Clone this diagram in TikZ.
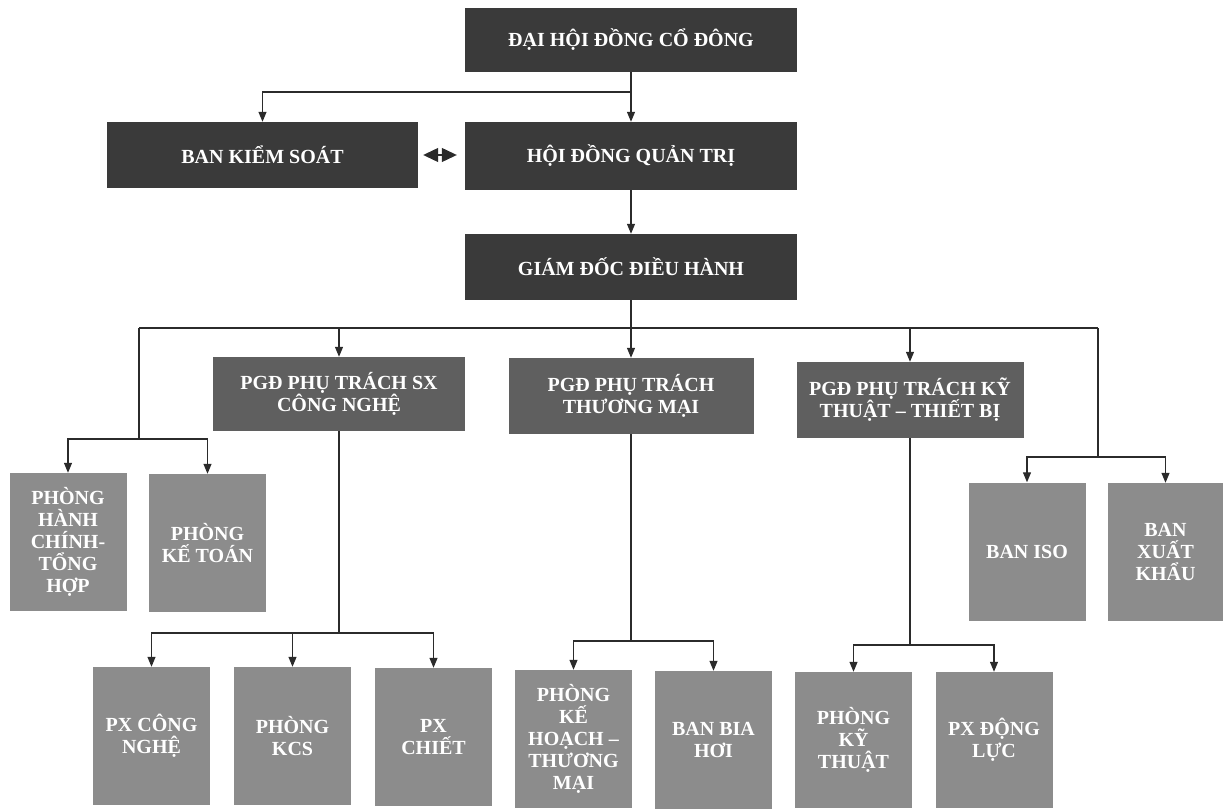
\documentclass[tikz,border=0pt]{standalone}
\usepackage{fontspec}
\setmainfont{Liberation Serif}
\usetikzlibrary{arrows.meta}
\definecolor{boardgray}{HTML}{3A3A3A}
\definecolor{deputygray}{HTML}{5F5F5F}
\definecolor{unitgray}{HTML}{8C8C8C}
\definecolor{linegray}{HTML}{2B2B2B}
\newcommand{\boxFont}[0]{\bfseries\fontsize{20}{22}\selectfont}

\begin{document}
\begin{tikzpicture}[x=1pt, y=-1pt]
  \tikzset{
    chart box/.style={text=white, font=\boxFont, align=center, inner sep=0pt},
    top box/.style={chart box, fill=boardgray, minimum width=332pt, minimum height=66pt},
    deputy box/.style={chart box, fill=deputygray, minimum height=76pt},
    unit box/.style={chart box, fill=unitgray, minimum width=117pt, minimum height=138pt},
    link/.style={draw=linegray, line width=1.2pt},
    arrow/.style={link, -{Triangle[length=10pt, width=8pt]}},
    twoway/.style={link, {Triangle[length=15pt, width=14pt]}-{Triangle[length=15pt, width=14pt]}}
  }
  \useasboundingbox (0,0) rectangle (1223,810);

  % board level
  \node[top box, minimum height=64pt] (dhdcd) at (631,40) {ĐẠI HỘI ĐỒNG CỔ ĐÔNG};
  \node[top box, minimum width=311pt] (bks) at (262.5,155) {BAN KIỂM SOÁT};
  \node[top box, minimum height=68pt] (hdqt) at (631,156) {HỘI ĐỒNG QUẢN TRỊ};
  \node[top box] (gddh) at (631,267) {GIÁM ĐỐC ĐIỀU HÀNH};

  % deputy directors
  \node[deputy box, minimum width=252pt, minimum height=74pt] (pgdsx) at (339,394) {PGĐ PHỤ TRÁCH SX\\CÔNG NGHỆ};
  \node[deputy box, minimum width=245pt] (pgdtm) at (631,396) {PGĐ PHỤ TRÁCH\\THƯƠNG MẠI};
  \node[deputy box, minimum width=227pt] (pgdkt) at (910,400) {PGĐ PHỤ TRÁCH KỸ\\THUẬT – THIẾT BỊ};

  % units
  \node[unit box] (hcth) at (68,542) {PHÒNG\\HÀNH\\CHÍNH-\\TỔNG\\HỢP};
  \node[unit box] (ketoan) at (207.5,543) {PHÒNG\\KẾ TOÁN};
  \node[unit box] (iso) at (1027,551.5) {BAN ISO};
  \node[unit box, minimum width=115pt] (xuatkhau) at (1165.5,552) {BAN\\XUẤT\\KHẨU};
  \node[unit box] (pxcn) at (151.5,736) {PX CÔNG\\NGHỆ};
  \node[unit box] (kcs) at (292.5,736) {PHÒNG\\KCS};
  \node[unit box] (chiet) at (433.5,737) {PX\\CHIẾT};
  \node[unit box] (khtm) at (573.5,739) {PHÒNG\\KẾ\\HOẠCH –\\THƯƠNG\\MẠI};
  \node[unit box] (biahoi) at (713.5,740) {BAN BIA\\HƠI};
  \node[unit box, minimum height=136pt] (pkt) at (853.5,740) {PHÒNG\\KỸ\\THUẬT};
  \node[unit box, minimum height=136pt] (dongluc) at (994,740) {PX ĐỘNG\\LỰC};

  % connectors
  \coordinate (jTop) at (631,92);
  \draw[arrow] (dhdcd) -- (hdqt);
  \draw[arrow] (jTop) -| (bks);
  \draw[twoway, shorten <=5pt, shorten >=8pt] (bks.east) -- (bks.east -| hdqt.west);
  \draw[arrow] (hdqt) -- (gddh);

  \coordinate (busL) at (139,328);
  \coordinate (busR) at (1098,328);
  \draw[link] (busL) -- (busR);
  \draw[arrow] (gddh) -- (pgdtm);
  \draw[arrow] (pgdsx.north |- busL) -- (pgdsx);
  \draw[arrow] (pgdkt.north |- busL) -- (pgdkt);

  \coordinate (jL) at (139,439);
  \draw[link] (busL) -- (jL);
  \draw[arrow] (jL) -| (hcth);
  \draw[arrow] (jL) -| (ketoan);

  \coordinate (jR) at (1098,457);
  \draw[link] (busR) -- (jR);
  \draw[arrow] (jR) -| (iso);
  \draw[arrow] (jR) -| (xuatkhau);

  \coordinate (jSX) at (339,633);
  \draw[link] (pgdsx) -- (jSX);
  \foreach \unit in {pxcn, kcs, chiet}
    \draw[arrow] (jSX) -| (\unit);

  \coordinate (jTM) at (631,641);
  \draw[link] (pgdtm) -- (jTM);
  \foreach \unit in {khtm, biahoi}
    \draw[arrow] (jTM) -| (\unit);

  \coordinate (jKT) at (910,645);
  \draw[link] (pgdkt) -- (jKT);
  \foreach \unit in {pkt, dongluc}
    \draw[arrow] (jKT) -| (\unit);
\end{tikzpicture}
\end{document}
